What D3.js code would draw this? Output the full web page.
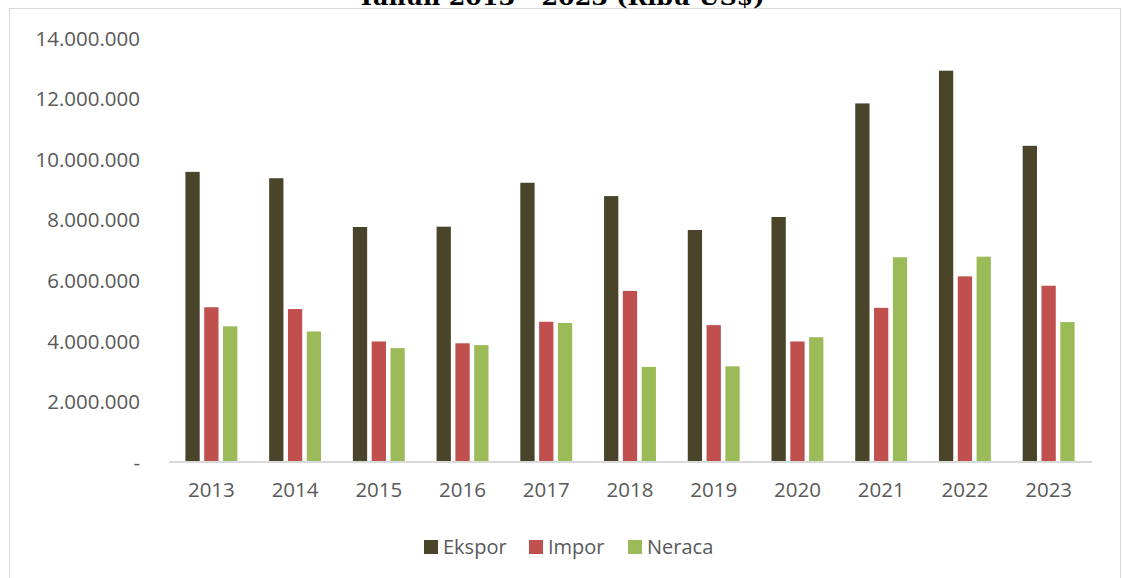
<!DOCTYPE html>
<html>
<head>
<meta charset="utf-8">
<script src="https://cdn.jsdelivr.net/npm/d3@7"></script>
<style>
	body { margin: 0; background: #fff; }
	svg { display: block; }
	text { font-family: "Open Sans", "Noto Sans", sans-serif; fill: #595959; }
</style>
</head>
<body>
<div id="chart-area"></div>
<script>

// SVG Size
let width = 1122,
	height = 578;

// data (ribu US$)
let years = ["2013", "2014", "2015", "2016", "2017", "2018", "2019", "2020", "2021", "2022", "2023"];
let seriesNames = ["Ekspor", "Impor", "Neraca"];
let ekspor = [9580000, 9370000, 7760000, 7770000, 9220000, 8780000, 7660000, 8090000, 11840000, 12920000, 10440000];
let impor  = [5110000, 5050000, 3980000, 3920000, 4630000, 5650000, 4520000, 3980000, 5090000, 6130000, 5820000];
let neraca = [4480000, 4310000, 3760000, 3860000, 4590000, 3140000, 3160000, 4120000, 6760000, 6780000, 4620000];
let yTicks = [0, 2000000, 4000000, 6000000, 8000000, 10000000, 12000000, 14000000];
let colors = ["#4a452a", "#c0504d", "#9bbb59"];

let rows = years.map((y, i) => ({ year: y, values: [ekspor[i], impor[i], neraca[i]] }));

drawChart(rows);

function drawChart(data) {
	let svg = d3.select("#chart-area").append("svg").attr("width", width).attr("height", height);

	// outer frame
	svg.append("rect")
	.attr("x", 9.5).attr("y", 8.5)
	.attr("width", 1111).attr("height", 620)
	.attr("fill", "none")
	.attr("stroke", "#d9d9d9");

	// title (only the bottom of it shows in the reference)
	svg.append("text")
	.attr("x", 561)
	.attr("y", 5)
	.attr("text-anchor", "middle")
	.attr("textLength", 407)
	.attr("lengthAdjust", "spacingAndGlyphs")
	.style("font-family", "'DejaVu Serif', serif")
	.style("font-weight", "bold")
	.style("font-size", "22px")
	.style("fill", "#000")
	.text("Tahun 2013 - 2023 (Ribu US$)");

	let x = d3.scaleBand().domain(years).range([169.5, 1090.5]).paddingInner(0.38).paddingOuter(0.19);
	let xs = d3.scaleBand().domain(seriesNames).range([0, x.bandwidth()]).paddingInner(0.24);
	let y = d3.scaleLinear().domain([0, 14000000]).range([462, 38]);
	let colorScale = d3.scaleOrdinal().domain(seriesNames).range(colors);

	let idLocale = d3.formatLocale({ decimal: ",", thousands: ".", grouping: [3], currency: ["", ""] });
	let fmt = idLocale.format(",");

	// y axis (labels only)
	let yAxis = d3.axisLeft(y).tickValues(yTicks).tickSize(0).tickPadding(0)
		.tickFormat(d => d === 0 ? "-" : fmt(d));
	svg.append("g")
	.attr("class", "axis y-axis")
	.attr("transform", "translate(140,0)")
	.call(yAxis)
	.call(g => g.select(".domain").remove())
	.selectAll("text")
	.style("font-size", "20.5px")
	.attr("dy", "0.35em")
	.style("fill", "#595959");

	// bars
	let groups = svg.selectAll("g.year")
	.data(data)
	.enter()
	.append("g")
	.attr("class", "year")
	.attr("transform", d => "translate(" + x(d.year) + ",0)");

	groups.selectAll("rect")
	.data(d => d.values.map((v, i) => ({ name: seriesNames[i], value: v })))
	.enter()
	.append("rect")
	.attr("x", d => xs(d.name))
	.attr("y", d => y(d.value))
	.attr("width", xs.bandwidth())
	.attr("height", d => y(0) - y(d.value))
	.attr("fill", d => colorScale(d.name));

	// x axis
	let xAxis = d3.axisBottom(x).tickSize(0).tickPadding(20);
	svg.append("g")
	.attr("class", "axis x-axis")
	.attr("transform", "translate(0,462)")
	.call(xAxis)
	.call(g => g.select(".domain").attr("stroke", "#d9d9d9").attr("stroke-width", 2).attr("d", "M169,0H1092"))
	.selectAll("text")
	.style("font-size", "20.5px")
	.style("fill", "#595959");

	// legend
	let legendX = [424, 529, 628];
	let legend = svg.selectAll("g.legend")
	.data(seriesNames)
	.enter()
	.append("g")
	.attr("class", "legend")
	.attr("transform", (d, i) => "translate(" + legendX[i] + ",540)");

	legend.append("rect")
	.attr("width", 14).attr("height", 14)
	.attr("fill", d => colorScale(d));

	legend.append("text")
	.attr("x", 19)
	.attr("y", 7)
	.attr("dy", "0.35em")
	.style("font-size", "20px")
	.text(d => d);
}

</script>
</body>
</html>
